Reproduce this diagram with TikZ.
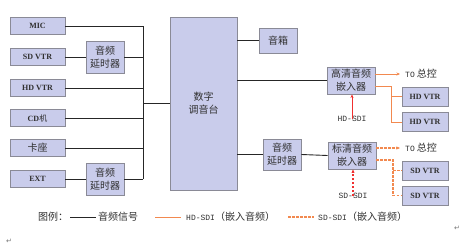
\documentclass[tikz,border=0pt]{standalone}
\usepackage{fontspec}
\setmainfont{Liberation Serif}
\newfontfamily\cjk{Noto Sans CJK SC}
\newfontfamily\monof{Liberation Mono}
\newfontfamily\dejavu{DejaVu Sans}
\usetikzlibrary{arrows.meta}
\definecolor{boxfill}{HTML}{C9CCEB}
\definecolor{boxdraw}{HTML}{8A8A96}
\definecolor{org}{HTML}{F2894F}
\definecolor{redl}{HTML}{F03030}
\definecolor{txt}{HTML}{303030}
\begin{document}
\begin{tikzpicture}[x=1pt,y=-1pt,
  box/.style={draw=boxdraw, fill=boxfill, line width=0.9pt, inner sep=0pt, align=center, text=txt},
  srcbox/.style={box, minimum width=55pt, minimum height=17pt, font=\fontsize{8}{9}\selectfont\bfseries},
  cjkbox/.style={box, font=\fontsize{10}{13}\selectfont\cjk},
  vtrbox/.style={box, minimum width=46pt, minimum height=19pt, font=\fontsize{8}{9}\selectfont\bfseries},
  wire/.style={draw=black!85, line width=0.9pt},
  hdl/.style={draw=org, line width=0.9pt},
  sdl/.style={draw=org, line width=1.1pt, dash pattern=on 2.5pt off 1.5pt},
  tip/.style={-{Stealth[length=3.5pt,width=3pt]}},
  lbl/.style={inner sep=0pt, text=txt},
]
\useasboundingbox (0,0) rectangle (473,251);

% left sources
\node[srcbox] (mic) at (37.5,26) {MIC};
\node[srcbox] (sdvtr) at (37.5,57) {SD VTR};
\node[srcbox] (hdvtr) at (37.5,88) {HD VTR};
\node[srcbox] (cd) at (37.5,118) {CD{\cjk\mdseries 机}};
\node[srcbox, font=\fontsize{10}{12}\selectfont\cjk] (kz) at (37.5,148) {卡座};
\node[srcbox] (ext) at (37.5,179) {EXT};

\node[cjkbox, minimum width=38pt, minimum height=32pt] (d1) at (105,57) {音频\\延时器};
\node[cjkbox, minimum width=38pt, minimum height=32pt] (d2) at (105,179) {音频\\延时器};

% mixer
\node[cjkbox, minimum width=67pt, minimum height=173pt] (mix) at (203.5,103.5) {数字\\调音台};

% bus
\coordinate (busT) at (143,26);
\coordinate (busB) at (143,179);
\coordinate (busM) at (143,103);

\draw[wire] (mic.east) -- (busT) -- (busB);
\draw[wire] (sdvtr.east) -- (d1.west);
\draw[wire] (d1.east) -- (d1.east -| busT);
\draw[wire] (hdvtr.east) -- (hdvtr.east -| busT);
\draw[wire] (cd.east) -- (cd.east -| busT);
\draw[wire] (kz.east) -- (kz.east -| busT);
\draw[wire] (ext.east) -- (d2.west);
\draw[wire] (d2.east) -- (busB);
\draw[wire] (busM) -- (busM -| mix.west);

% right side
\node[cjkbox, minimum width=38pt, minimum height=25pt] (spk) at (278,40.5) {音箱};
\node[cjkbox, minimum width=48pt, minimum height=27pt] (hde) at (351,80.5) {高清音频\\嵌入器};
\node[cjkbox, minimum width=38pt, minimum height=31pt] (d3) at (282,154.5) {音频\\延时器};
\node[cjkbox, minimum width=48pt, minimum height=27pt] (sde) at (352,155.5) {标清音频\\嵌入器};

\draw[wire] (spk.west -| mix.east) -- (spk.west);
\draw[wire] (hde.west -| mix.east) -- (hde.west);
\draw[wire] (d3.west -| mix.east) -- (d3.west);
\draw[wire] (d3.east) -- (sde.west);

\node[vtrbox] (hv1) at (425,96.5) {HD VTR};
\node[vtrbox] (hv2) at (425,122) {HD VTR};
\node[vtrbox] (sv1) at (425,170.5) {SD VTR};
\node[vtrbox] (sv2) at (425,195.5) {SD VTR};

% HD outputs
\coordinate (hdA) at (375,74);
\coordinate (hdAe) at (400,74);
\coordinate (hdB) at (375,86);
\coordinate (hdBc) at (391,86);
\draw[hdl, tip] (hdA) -- (hdAe);
\node[lbl, anchor=west, font=\fontsize{8}{9}\selectfont] (hdto) at (405,74) {{\monof TO} {\cjk\fontsize{10}{12}\selectfont 总控}};
\draw[hdl] (hdB) -- (hdBc) |- (hv2.west);
\draw[hdl] (hdBc |- hv1.west) -- (hv1.west);
\node[lbl, font=\fontsize{8}{9}\selectfont\monof] (hdsdi) at (352,119) {HD-SDI};
\draw[draw=redl, line width=0.9pt, tip] ([yshift=-3pt]hdsdi.north) -- (hdsdi.north |- hde.south);

% SD outputs
\coordinate (sdA) at (376,148);
\coordinate (sdAe) at (400,148);
\coordinate (sdB) at (376,160);
\coordinate (sdBc) at (393,160);
\draw[sdl, tip] (sdA) -- (sdAe);
\node[lbl, anchor=west, font=\fontsize{8}{9}\selectfont] (sdto) at (405,148) {{\monof TO} {\cjk\fontsize{10}{12}\selectfont 总控}};
\draw[sdl] (sdB) -- (sdBc) |- (sv2.west);
\draw[sdl] (sdBc |- sv1.west) -- (sv1.west);
\node[lbl, font=\fontsize{8}{9}\selectfont\monof] (sdsdi) at (353,196) {SD-SDI};
\draw[draw=redl, line width=1.1pt, dash pattern=on 2.5pt off 1.5pt, tip] ([yshift=-3pt]sdsdi.north) -- (sdsdi.north |- sde.south);

% legend
\node[lbl, anchor=west, font=\fontsize{10}{12}\selectfont\cjk] (lg) at (38,217) {图例：};
\coordinate (l1a) at (70,217);
\coordinate (l1b) at (96,217);
\draw[wire] (l1a) -- (l1b);
\node[lbl, anchor=west, font=\fontsize{10}{12}\selectfont\cjk] (lt1) at (98,217) {音频信号};
\coordinate (l2a) at (155,217);
\coordinate (l2b) at (181,217);
\draw[hdl] (l2a) -- (l2b);
\node[lbl, anchor=west, font=\fontsize{8}{9}\selectfont] (lt2) at (186,217) {{\monof HD-SDI}{\cjk\fontsize{10}{12}\selectfont （嵌入音频）}};
\coordinate (l3a) at (288,217);
\coordinate (l3b) at (314,217);
\draw[sdl] (l3a) -- (l3b);
\node[lbl, anchor=west, font=\fontsize{8}{9}\selectfont] (lt3) at (318,217) {{\monof SD-SDI}{\cjk\fontsize{10}{12}\selectfont （嵌入音频）}};

% paragraph marks
\node[lbl, text=black!55, font=\fontsize{7}{8}\selectfont\dejavu] (pm1) at (9,241) {↵};
\node[lbl, text=black!55, font=\fontsize{7}{8}\selectfont\dejavu] (pm2) at (457,228) {↵};
\end{tikzpicture}
\end{document}
